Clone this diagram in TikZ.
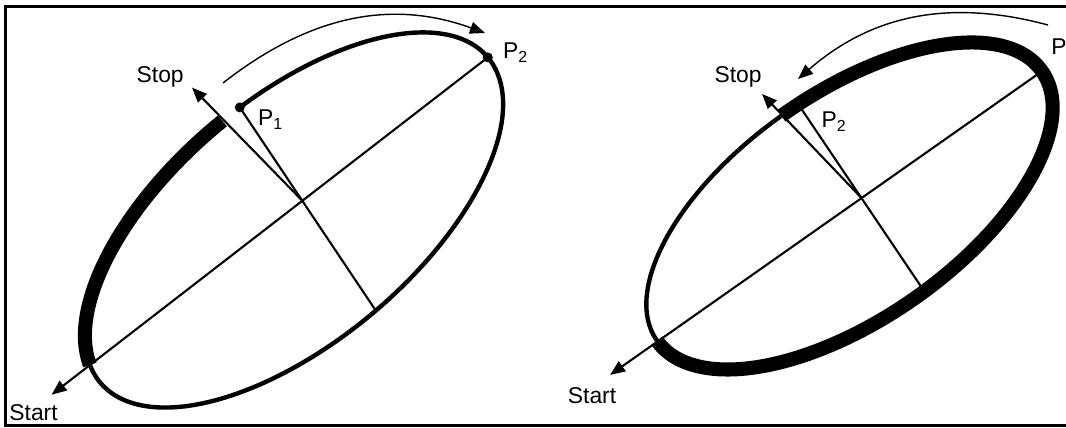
\documentclass[tikz,border=0pt]{standalone}
\usepackage{fontspec}
\setmainfont{Liberation Sans}
\usetikzlibrary{positioning,arrows.meta}

\begin{document}
\begin{tikzpicture}[x=0.02cm, y=0.02cm,
border/.style={line width=1.4pt},
heavy/.style={line width=8pt},
pathline/.style={line width=2.5pt},
axisline/.style={line width=1.2pt},
arrow/.style={axisline, -{Triangle[length=3mm, width=2.4mm]}},
turn/.style={line width=0.8pt, -{Triangle[length=3mm, width=2.4mm]}},
tag/.style={inner sep=0pt, font=\fontsize{13}{15}\selectfont},
dot/.style={circle, fill, inner sep=0pt, minimum size=2mm}
]
\useasboundingbox (0,0) rectangle (1066,428);
\draw[border] (1070,421.5) -- (5.5,421.5) -- (5.5,2.5) -- (1070,2.5);

\begin{scope}[shift={(294,208)}, rotate=40]
\coordinate (lP1) at (83:253 and 122);
\coordinate (lP2) at (0:253 and 122);
\coordinate (lEnd) at (-89:253 and 122);
\coordinate (lStart) at (-298,22);
\coordinate (lStop) at (7,167);
\draw[pathline] (lP1) arc[start angle=83, end angle=-189.5, x radius=253, y radius=122];
\draw[heavy] (170.5:253 and 122) arc[start angle=170.5, end angle=88, x radius=253, y radius=122];
\end{scope}

\begin{scope}[shift={(849.5,222)}, rotate=35]
\coordinate (rP1) at (0:235 and 113);
\coordinate (rP2) at (86:235 and 113);
\coordinate (rEnd) at (-87:235 and 113);
\coordinate (rStart) at (-293,-1);
\coordinate (rStop) at (-7.4,142);
\draw[pathline] (180:235 and 113) arc[start angle=180, end angle=91, x radius=235, y radius=113];
\draw[heavy] (91:235 and 113) arc[start angle=91, end angle=-180, x radius=235, y radius=113];
\end{scope}

\coordinate (lMid) at (intersection of lP2--lStart and lP1--lEnd);
\coordinate (rMid) at (intersection of rP1--rStart and rP2--rEnd);

\draw[arrow] (lP2) -- (lStart);
\draw[axisline] (lP1) -- (lEnd);
\draw[arrow] (lMid) -- (lStop);
\node[dot] (lDot1) at (lP1) {};
\node[dot] (lDot2) at (lP2) {};

\draw[arrow] (rP1) -- (rStart);
\draw[axisline] (rP2) -- (rEnd);
\draw[arrow] (rMid) -- (rStop);

\coordinate (lTurnA) at (223,345);
\coordinate (lTurnB) at (485,395);
\coordinate (rTurnA) at (1048,403);
\coordinate (rTurnB) at (798,349);
\draw[turn] (lTurnA) to[out=38, in=160] (lTurnB);
\draw[turn] (rTurnA) to[out=165, in=41] (rTurnB);

\node[tag, above left=0pt and 1.6mm of lStop] (lStopText) {Stop};
\node[tag, below=2mm of lStart, xshift=-3.6mm] (lStartText) {Start};
\node[tag, below right=0.5mm and 3.6mm of lP1] (lP1Text) {P\textsubscript{1}};
\node[tag, right=3mm of lP2, yshift=1mm] (lP2Text) {P\textsubscript{2}};

\node[tag, above left=1.2mm and 0mm of rStop] (rStopText) {Stop};
\node[tag, below=2.4mm of rStart, xshift=-3.6mm] (rStartText) {Start};
\node[tag, below right=1.5mm and 4.6mm of rP2] (rP2Text) {P\textsubscript{2}};
\node[tag, above right=3.2mm and 1.8mm of rP1] (rP1Text) {P};
\end{tikzpicture}
\end{document}
